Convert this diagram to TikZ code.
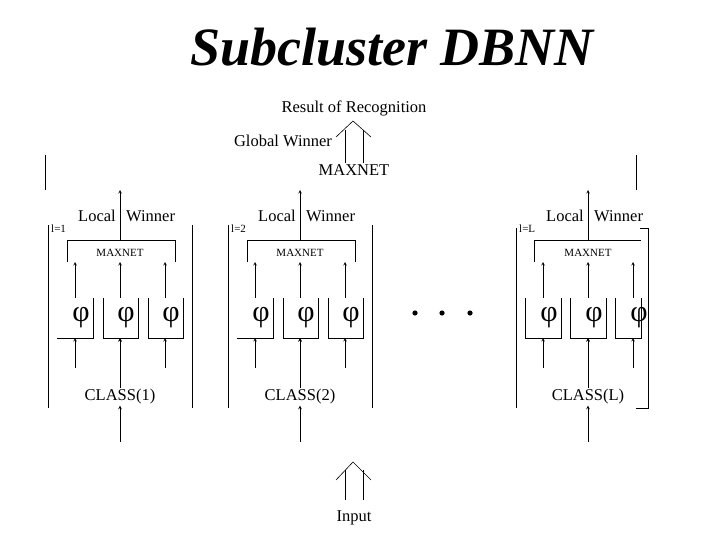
\documentclass[tikz,border=0pt]{standalone}
\usepackage{fontspec}
\setmainfont{Liberation Serif}
\usetikzlibrary{arrows,positioning}

\begin{document}
\begin{tikzpicture}[x=1pt,y=-1pt,auto]
\tikzstyle{line} = [draw, semithick];
\tikzstyle{up} = [draw, semithick, -stealth];
\tikzstyle{lbl} = [font=\fontsize{16.5}{16}\selectfont, inner sep=1pt];
\tikzstyle{small} = [font=\fontsize{11}{11}\selectfont, inner sep=1pt];
\tikzstyle{phi} = [font=\fontsize{30}{30}\selectfont, inner sep=0pt];
\useasboundingbox (0,0) rectangle (720,540);

% title and global part
\node [font=\fontsize{54}{54}\bfseries\itshape\selectfont] (title) at (392,47) {Subcluster DBNN};
\node [lbl] (result) at (354,108) {Result of Recognition};
\node [lbl] (global) at (283,141) {Global Winner};
\node [lbl] (gmax) at (354,170) {MAXNET};
\coordinate (gl) at (345,130); \coordinate (gr) at (363,130);
\path [line] (gmax.north -| gl) -- (gl);
\path [line] (gmax.north -| gr) -- (gr);
\path [line] (336,137) -- (353,121) -- (371,137);
\path [line] (45,155) -- (45,190);
\path [line] (636,155) -- (636,190);

% the three classes
\foreach \cx/\lab/\k/\nm in {120/1/1/one, 300/2/2/two, 588/L/L/last}{
  \node [small] (max\nm) at (\cx,253) {MAXNET};
  \node [lbl] (class\nm) at (\cx,397) {CLASS(\lab)};
  \node [lbl, anchor=east] at (\cx-3,216) {Local};
  \node [lbl, anchor=west] at (\cx+5,216) {Winner};
  \node [small, anchor=north west] at (\cx-70,224) {l=\k};
  \coordinate (top\nm) at (\cx,190);
  \coordinate (in\nm) at (\cx,442);
  \path [up] (\cx,240) -- (top\nm);
  \path [up] (in\nm) -- (class\nm);
  \foreach \dx in {-45,0,45}{
    \node [phi] (phi\nm\dx) at (\cx+\dx+6,318) {φ};
    \path [up] (\cx+\dx,298) -- (\cx+\dx,262);
    \path [up] (\cx+\dx,368) -- (\cx+\dx,338);
  }
  \path [up] (class\nm) -- (\cx,338);
}
% brackets and walls
\foreach \cx in {120,300}{
  \path [line] (\cx-72,225) -- (\cx-72,408);
  \path [line] (\cx+72,225) -- (\cx+72,408);
  \path [line] (\cx-53,262) -- (\cx-53,240) -- (\cx+55,240) -- (\cx+55,262);
  \path [line] (\cx-63,338) -- (\cx-27,338) -- (\cx-27,298);
  \path [line] (\cx-17,298) -- (\cx-17,338) -- (\cx+18,338) -- (\cx+18,298);
  \path [line] (\cx+28,298) -- (\cx+28,338) -- (\cx+63,338) -- (\cx+63,298);
}
\path [line] (516,228) -- (516,408);
\path [line] (640,228) -- (648,228) -- (648,408) -- (636,408);
\path [line] (534,262) -- (534,240) -- (641,240);
\path [line] (525,298) -- (525,338) -- (561,338) -- (561,298);
\path [line] (570,298) -- (570,338) -- (606,338) -- (606,298);
\path [line] (615,298) -- (615,338) -- (641,338) -- (641,298);

% dots
\foreach \x in {415,442,470}{ \fill (\x,313) circle (2.6); }

% input
\node [lbl] (input) at (354,518) {Input};
\coordinate (il) at (345,470); \coordinate (ir) at (363,470);
\path [line] (345,500) -- (il);
\path [line] (363,500) -- (ir);
\path [line] (336,480) -- (353,462) -- (371,480);
\end{tikzpicture}
\end{document}
